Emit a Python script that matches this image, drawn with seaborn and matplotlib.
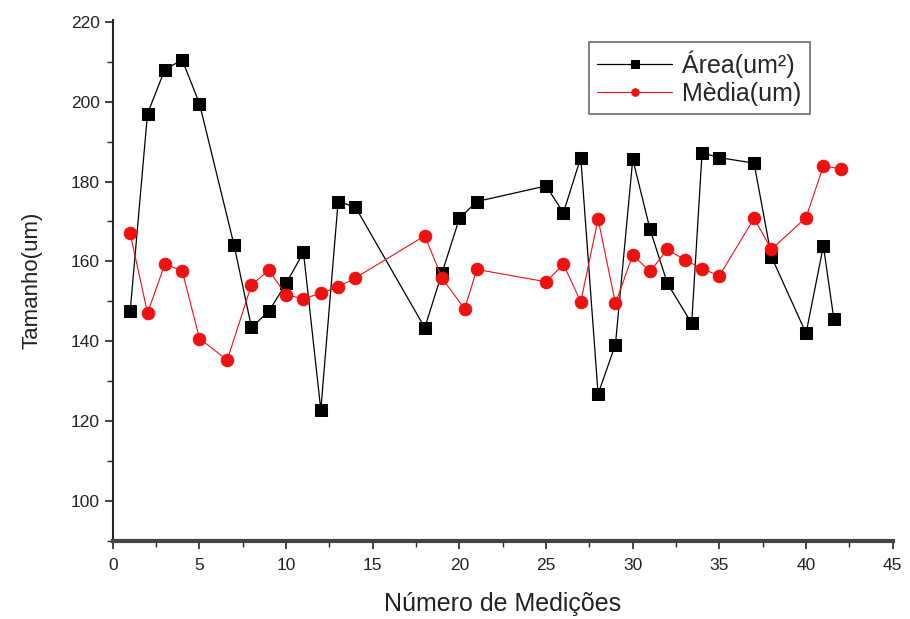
import matplotlib
matplotlib.use("Agg")
import matplotlib.pyplot as plt
import seaborn as sns
import pandas as pd
from matplotlib.ticker import MultipleLocator

# === Data ===
area_x = [1, 2, 3, 4, 5, 7, 8, 9, 10, 11, 12, 13, 14, 18, 19, 20, 21, 25, 26, 27,
          28, 29, 30, 31, 32, 33.4, 34, 35, 37, 38, 40, 41, 41.6]
area_y = [147.5, 197, 208, 210.5, 199.5, 164, 143.5, 147.5, 154.5, 162.3, 122.8, 175,
          173.6, 143.4, 157.2, 170.8, 175, 178.9, 172.2, 186, 126.8, 139.2, 185.6, 168,
          154.5, 144.5, 187.2, 186, 184.6, 161.2, 142, 163.9, 145.7]

media_x = [1, 2, 3, 4, 5, 6.6, 8, 9, 10, 11, 12, 13, 14, 18, 19, 20.3, 21, 25, 26, 27,
           28, 29, 30, 31, 32, 33, 34, 35, 37, 38, 40, 41, 42]
media_y = [167, 147.1, 159.3, 157.7, 140.7, 135.3, 154.1, 157.8, 151.6, 150.7, 152,
           153.6, 155.9, 166.4, 155.8, 148.1, 158, 154.9, 159.3, 149.9, 170.6, 149.5,
           161.6, 157.5, 163, 160.4, 158.2, 156.4, 170.8, 163, 171, 183.9, 183.2]

area_df = pd.DataFrame({"x": area_x, "y": area_y})
media_df = pd.DataFrame({"x": media_x, "y": media_y})

# === Plot ===
sns.set_style("ticks")
plt.rcParams["font.family"] = ["Liberation Sans", "DejaVu Sans"]

fig = plt.figure(figsize=(9.1, 6.19), dpi=100)
ax = fig.add_axes([0.124, 0.126, 0.857, 0.842])

sns.lineplot(data=area_df, x="x", y="y", ax=ax, color="black", linewidth=0.9,
             marker="s", markersize=9, markeredgecolor="black", sort=False,
             label="Área(um²)")
sns.lineplot(data=media_df, x="x", y="y", ax=ax, color="#ee1111", linewidth=0.8,
             marker="o", markersize=9, markeredgecolor="#ee1111", sort=False,
             label="Mèdia(um)")

ax.set_xlim(0, 45)
ax.set_ylim(90, 220.5)
ax.xaxis.set_major_locator(MultipleLocator(5))
ax.xaxis.set_minor_locator(MultipleLocator(2.5))
ax.yaxis.set_major_locator(MultipleLocator(20))
ax.yaxis.set_minor_locator(MultipleLocator(10))
ax.set_yticks(range(100, 221, 20))
ax.tick_params(which="major", direction="out", length=6, width=1.2, labelsize=12.5,
               colors="#222222")
ax.tick_params(axis="x", which="major", pad=6)
ax.tick_params(which="minor", direction="out", length=4, width=1.0)

sns.despine(ax=ax)
ax.spines["left"].set_linewidth(1.5)
ax.spines["bottom"].set_linewidth(3)
ax.spines["bottom"].set_color("#444444")

ax.set_xlabel("Número de Medições", fontsize=18, color="#222222", labelpad=14)
ax.set_ylabel("Tamanho(um)", fontsize=16, color="#222222", labelpad=20)

leg = ax.legend(loc="upper left", bbox_to_anchor=(0.61, 0.958), borderaxespad=0,
                fontsize=18, frameon=True, fancybox=False, edgecolor="#444444",
                handlelength=3.0, handletextpad=0.4, borderpad=0.35,
                labelspacing=0.15, markerscale=0.6)
leg.get_frame().set_linewidth(1.2)

plt.savefig("out.png", dpi=100)
